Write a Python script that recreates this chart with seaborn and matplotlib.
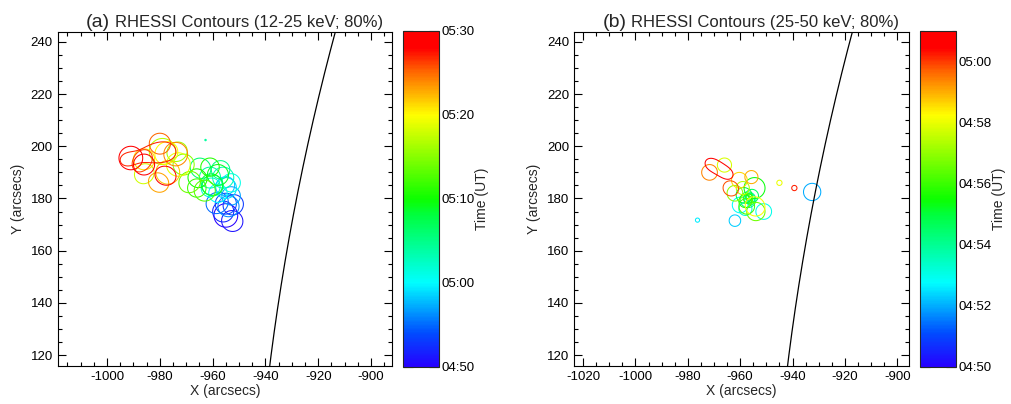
import numpy as np
import matplotlib
matplotlib.use("Agg")
import matplotlib.pyplot as plt
from matplotlib.colors import LinearSegmentedColormap, Normalize
from matplotlib.cm import ScalarMappable
from matplotlib.ticker import MultipleLocator, FuncFormatter
import seaborn as sns

# ---- source components per image: time (min after 04:50 UT), centre (arcsec),
#      80%-contour radius of the component alone (arcsec), relative amplitude
a_t = [0, 1, 1, 2, 3, 3, 4, 5, 5, 6, 7, 8, 8, 9, 10, 11, 12, 12, 13, 14, 14, 15, 16, 16, 17, 18, 18,
       19, 20, 20, 21, 22, 23, 24, 24, 25, 26, 26, 27, 28, 28, 29, 30, 30, 31, 32, 33, 33, 34, 35,
       36, 36, 37, 37, 37, 37, 38, 39, 39, 40]
a_x = [-955, -954, -951.5, -956, -953.5, -951, -955, -956, -960, -954, -953, -957, -954, -955, -958,
       -953, -959, -962, -956, -961, -962.7, -957, -963, -966, -960, -962, -959, -958, -964, -967,
       -961, -966, -963, -967, -970, -971, -976, -972, -979, -984, -987, -973, -980, -976, -986,
       -977, -983, -979, -974, -980, -989, -985, -994, -988, -981, -975, -991, -981, -976, -986]
a_y = [173.5, 172.5, 170.5, 175, 176, 179, 178, 180, 177, 177, 181, 183, 186, 184, 182, 186, 186, 183,
       188, 188, 202.4, 191, 190, 193, 185, 187, 184, 189, 186, 189, 192, 184, 183, 188, 185, 193,
       196, 199, 198, 192, 188, 193, 195, 199, 195, 190, 188, 185, 197, 201, 191, 197, 194.5, 196,
       198, 198, 195.5, 190, 188, 193]
a_r = [4.5, 4.5, 3.5, 4, 4, 3.5, 4, 4.5, 3.5, 4, 3.5, 4, 3, 4, 3.5, 3.5, 4, 3, 4, 4, 0.4, 3.5, 4, 3.5,
       4, 4.5, 3.5, 4, 4, 3, 3.5, 3.5, 4, 4.5, 3.5, 4, 4.5, 3, 5, 4.5, 3, 4.5, 5, 3.5, 4, 4.5, 4.5,
       3, 4.5, 4, 4, 3, 2.5, 3.5, 4, 4, 4.5, 4.5, 3, 4]
a_amp = [1, 1, 0.9, 1, 1, 0.9, 1, 1, 0.9, 1, 1, 1, 0.9, 1, 1, 1, 1, 0.9, 1, 1, 0.84, 1, 1, 0.9, 1,
         1, 0.85, 1, 1, 0.9, 1, 1, 1, 1, 0.9, 1, 1, 0.9, 1, 1, 0.9, 1, 1, 0.9, 1, 1, 1, 0.9, 1, 1,
         1, 0.9, 1.3, 1, 1, 1.2, 1, 1, 0.9, 1]

b_t = [2.0, 2.3, 2.6, 2.8, 3.0, 3.3, 3.8, 4.0, 4.2, 4.6, 5.0, 5.0, 5.2, 5.4, 5.8, 6.0, 6.2, 6.6,
       7.0, 7.4, 7.8, 8.0, 8.2, 8.2, 8.6, 9.0, 9.4, 9.8, 9.8, 10.2, 10.5, 10.5, 10.5]
b_x = [-932.5, -962, -976.3, -960, -951, -958, -956.5, -956, -957, -955.5, -957, -959.5, -956.5,
       -954.5, -958, -957, -957.5, -954, -962, -959, -966, -945, -956.5, -953, -960.3, -955.7,
       -971.7, -965, -962.5, -939.3, -972.5, -968, -963.5]
b_y = [182.5, 171.5, 171.7, 177.5, 175, 176, 180, 179, 179.5, 181, 180, 182, 180.5, 184, 179, 180,
       177, 175, 182, 184, 192.8, 186, 178.6, 176, 187, 188.2, 190, 185, 183, 184, 194, 191.5, 188.5]
b_r = [3.3, 2.2, 0.8, 3, 3, 2.5, 2, 1.5, 3, 2.5, 3.5, 2.5, 1.2, 4, 2.5, 1.8, 3, 3.5, 3, 2.5, 2.7,
       1.0, 4.5, 3, 3, 2.5, 3, 3.2, 2.5, 1.0, 2.5, 2.5, 2.5]
b_amp = [1, 1, 1, 1, 1, 1, 1, 1, 1, 1, 1, 0.85, 1, 1, 1, 1, 1, 1, 1, 1, 1, 1, 1, 0.9, 1, 1, 1, 1,
         0.9, 1, 1.3, 1, 1.3]

# apparent limb radius (arcsec) seen in each panel
a_limb_radius = 945.5
b_limb_radius = 949.0

panel_labels = ["(a)", "(b)"]
panel_titles = ["RHESSI Contours (12-25 keV; 80%)", "RHESSI Contours (25-50 keV; 80%)"]
a_xlim, b_xlim = (-1018.7, -891.9), (-1023.5, -895.5)
ylim = (115.8, 243.8)
a_trange, b_trange = (0, 40), (0, 11)

sns.set_style("ticks")
plt.rcParams["font.family"] = ["Liberation Sans", "DejaVu Sans"]
plt.rcParams["axes.unicode_minus"] = False

rainbow = LinearSegmentedColormap.from_list("idl_rainbow", [
    (0.00, (0.15, 0.0, 1.0)), (0.10, (0.0, 0.3, 1.0)), (0.25, (0.0, 1.0, 1.0)),
    (0.45, (0.0, 1.0, 0.25)), (0.50, (0.05, 1.0, 0.0)), (0.75, (1.0, 1.0, 0.0)),
    (0.88, (1.0, 0.4, 0.0)), (0.95, (1.0, 0.0, 0.0)), (1.00, (1.0, 0.0, 0.0))])


def hhmm(v, _pos=None):
    m = int(round(v)) + 50
    return f"{4 + m // 60:02d}:{m % 60:02d}"


def draw_panel(ax, cax, t, x, y, r, amp, xlim, trange, limb_r, label, title, cmajor, cminor):
    t, x, y, r, amp = map(np.asarray, (t, x, y, r, amp))
    norm = Normalize(*trange)
    gx = np.linspace(xlim[0], xlim[1], 700)
    gy = np.linspace(ylim[0], ylim[1], 700)
    X, Y = np.meshgrid(gx, gy)
    for tt in np.unique(t):
        sel = t == tt
        Z = np.zeros_like(X)
        for cx, cy, cr, ca in zip(x[sel], y[sel], r[sel], amp[sel]):
            s = cr / np.sqrt(2 * np.log(1.25))
            Z += ca * np.exp(-((X - cx) ** 2 + (Y - cy) ** 2) / (2 * s * s))
        ax.contour(X, Y, Z, levels=[0.8 * Z.max()], colors=[rainbow(norm(tt))], linewidths=0.75)

    ly = np.linspace(ylim[0] - 5, ylim[1] + 5, 200)
    lx = -np.sqrt(limb_r ** 2 - ly ** 2)
    sns.lineplot(x=lx, y=ly, sort=False, color="black", linewidth=0.9, ax=ax)

    ax.set_xlim(xlim)
    ax.set_ylim(ylim)
    ax.xaxis.set_major_locator(MultipleLocator(20))
    ax.xaxis.set_minor_locator(MultipleLocator(5))
    ax.yaxis.set_major_locator(MultipleLocator(20))
    ax.yaxis.set_minor_locator(MultipleLocator(5))
    ax.tick_params(which="both", direction="in", top=True, right=True, labelsize=9.5,
                   colors="black", width=0.8)
    ax.tick_params(which="major", length=6)
    ax.tick_params(which="minor", length=3)
    for s in ax.spines.values():
        s.set_linewidth(0.8)
        s.set_color("black")
    ax.set_xlabel("X (arcsecs)", fontsize=10, labelpad=1)
    ax.set_ylabel("Y (arcsecs)", fontsize=10, labelpad=4)
    ax.text(0.157, 1.016, label, transform=ax.transAxes, ha="right", va="baseline", fontsize=14)
    ax.text(0.171, 1.016, title, transform=ax.transAxes, ha="left", va="baseline", fontsize=12)

    cb = plt.colorbar(ScalarMappable(norm=norm, cmap=rainbow), cax=cax)
    cb.outline.set_linewidth(0.8)
    cb.set_ticks(np.arange(trange[0], trange[1] + 0.01, cmajor))
    cb.ax.yaxis.set_minor_locator(MultipleLocator(cminor))
    cb.ax.yaxis.set_major_formatter(FuncFormatter(hhmm))
    cax.tick_params(which="both", direction="in", left=True, right=True, labelsize=9.5,
                    width=0.8, colors="black")
    cax.tick_params(which="major", length=7, pad=2)
    cax.tick_params(which="minor", length=3)
    cb.set_label("Time (UT)", fontsize=10, labelpad=0)


fig = plt.figure(figsize=(10.11, 4.04), dpi=100)
ax_a = fig.add_axes([0.0571, 0.0941, 0.331, 0.8267])
cax_a = fig.add_axes([0.3986, 0.0916, 0.0356, 0.8317])
ax_b = fig.add_axes([0.5677, 0.0941, 0.3314, 0.8267])
cax_b = fig.add_axes([0.910, 0.0916, 0.0353, 0.8317])

draw_panel(ax_a, cax_a, a_t, a_x, a_y, a_r, a_amp, a_xlim, a_trange, a_limb_radius,
           panel_labels[0], panel_titles[0], 10, 5)
draw_panel(ax_b, cax_b, b_t, b_x, b_y, b_r, b_amp, b_xlim, b_trange, b_limb_radius,
           panel_labels[1], panel_titles[1], 2, 1)

fig.savefig("out.png", dpi=100)
